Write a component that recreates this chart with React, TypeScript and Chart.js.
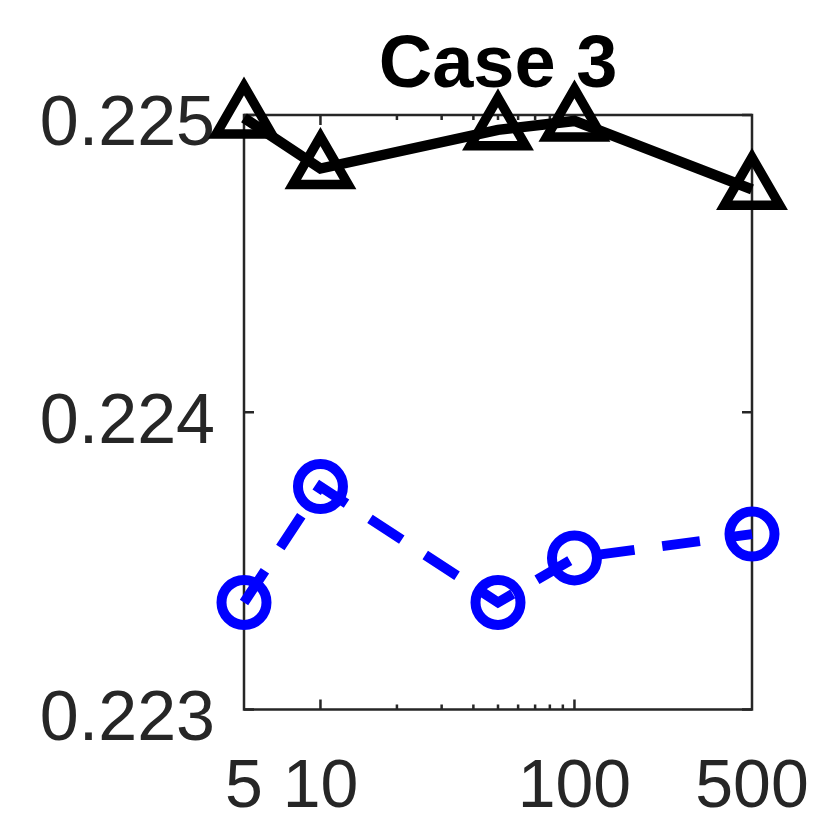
import React, { useEffect, useRef } from "react";
import { Chart, registerables } from "chart.js";

Chart.register(...registerables);

// ---- data ----
const xValues = [5, 10, 50, 100, 500];
const blackSeries = [0.22499, 0.22482, 0.22495, 0.22498, 0.22475];
const blueSeries = [0.22336, 0.22375, 0.22336, 0.22351, 0.22359];
const xTickLabels = [5, 10, 100, 500];
const xMajorMarks = [10, 100];
const xMinorMarks = [20, 30, 40, 50, 60, 70, 80, 90];
const yTickValues = [0.223, 0.224, 0.225];
const titleText = "Case 3";

const AXIS = "#262626";
const FONT = "'Liberation Sans', Arial, Helvetica, sans-serif";

const boxPlugin = {
  id: "matlabBox",
  beforeDatasetsDraw(chart: any) {
    const { ctx, chartArea: a, scales } = chart;
    const xs = scales.x;
    const ys = scales.y;
    ctx.save();
    ctx.strokeStyle = AXIS;
    ctx.lineWidth = 2.5;
    ctx.lineCap = "butt";
    ctx.beginPath();
    ctx.rect(a.left, a.top, a.right - a.left, a.bottom - a.top);
    ctx.stroke();
    const majorLen = 10;
    const minorLen = 5;
    ctx.beginPath();
    const xMark = (v: number, len: number) => {
      const px = xs.getPixelForValue(v);
      ctx.moveTo(px, a.bottom);
      ctx.lineTo(px, a.bottom - len);
      ctx.moveTo(px, a.top);
      ctx.lineTo(px, a.top + len);
    };
    xMajorMarks.forEach((v) => xMark(v, majorLen));
    xMinorMarks.forEach((v) => xMark(v, minorLen));
    yTickValues.forEach((v) => {
      const py = ys.getPixelForValue(v);
      ctx.moveTo(a.left, py);
      ctx.lineTo(a.left + majorLen, py);
      ctx.moveTo(a.right, py);
      ctx.lineTo(a.right - majorLen, py);
    });
    ctx.stroke();
    ctx.restore();
  },
};

export default function App() {
  const canvasRef = useRef<HTMLCanvasElement | null>(null);

  useEffect(() => {
    document.body.style.margin = "0";
    const canvas = canvasRef.current;
    if (!canvas) return;
    const chart = new Chart(canvas, {
      type: "line",
      data: {
        datasets: [
          {
            label: "black",
            data: xValues.map((x, i) => ({ x, y: blackSeries[i] })),
            borderColor: "#000000",
            borderWidth: 10.5,
            pointStyle: "triangle",
            pointRadius: 32,
            pointBorderWidth: 9.5,
            pointBorderColor: "#000000",
            pointBackgroundColor: "rgba(0,0,0,0)",
            tension: 0,
            clip: false as any,
          },
          {
            label: "blue",
            data: xValues.map((x, i) => ({ x, y: blueSeries[i] })),
            borderColor: "#0000ff",
            borderWidth: 10,
            borderDash: [38, 28],
            pointStyle: "circle",
            pointRadius: 22.5,
            pointBorderWidth: 10,
            pointBorderColor: "#0000ff",
            pointBackgroundColor: "rgba(0,0,0,0)",
            tension: 0,
            clip: false as any,
          },
        ],
      },
      options: {
        responsive: false,
        animation: false,
        layout: { padding: { left: 0, right: 78, top: 0, bottom: 0 } },
        plugins: {
          legend: { display: false },
          tooltip: { enabled: false },
          title: {
            display: true,
            text: titleText,
            color: "#000000",
            fullSize: false,
            font: { family: FONT, size: 74, weight: "bold", lineHeight: 1.2 },
            padding: { top: 22, bottom: 4.2 },
          },
        },
        scales: {
          x: {
            type: "logarithmic",
            min: 5,
            max: 500,
            grid: { display: false, drawTicks: false },
            border: { display: false },
            afterBuildTicks: (scale: any) => {
              scale.ticks = xTickLabels.map((v) => ({ value: v }));
            },
            afterFit: (scale: any) => {
              scale.height = 120.5;
              scale.paddingLeft = 0;
              scale.paddingRight = 0;
            },
            ticks: {
              autoSkip: false,
              maxRotation: 0,
              minRotation: 0,
              padding: 38,
              color: AXIS,
              font: { family: FONT, size: 68, lineHeight: 1.2 },
              callback: (v: any) => String(v),
            },
          },
          y: {
            type: "linear",
            min: 0.223,
            max: 0.225,
            grid: { display: false, drawTicks: false },
            border: { display: false },
            afterBuildTicks: (scale: any) => {
              scale.ticks = yTickValues.map((v) => ({ value: v }));
            },
            afterFit: (scale: any) => {
              scale.width = 244;
              scale.paddingTop = 0;
              scale.paddingBottom = 0;
            },
            ticks: {
              autoSkip: false,
              padding: 29,
              labelOffset: 11,
              color: AXIS,
              font: { family: FONT, size: 70, lineHeight: 1.2 },
              callback: (v: any) => Number(v).toFixed(3),
            },
          },
        },
      } as any,
      plugins: [boxPlugin],
    });
    return () => chart.destroy();
  }, []);

  return (
    <div style={{ width: 830, height: 830 }}>
      <canvas ref={canvasRef} width={830} height={830} style={{ display: "block" }} />
    </div>
  );
}
